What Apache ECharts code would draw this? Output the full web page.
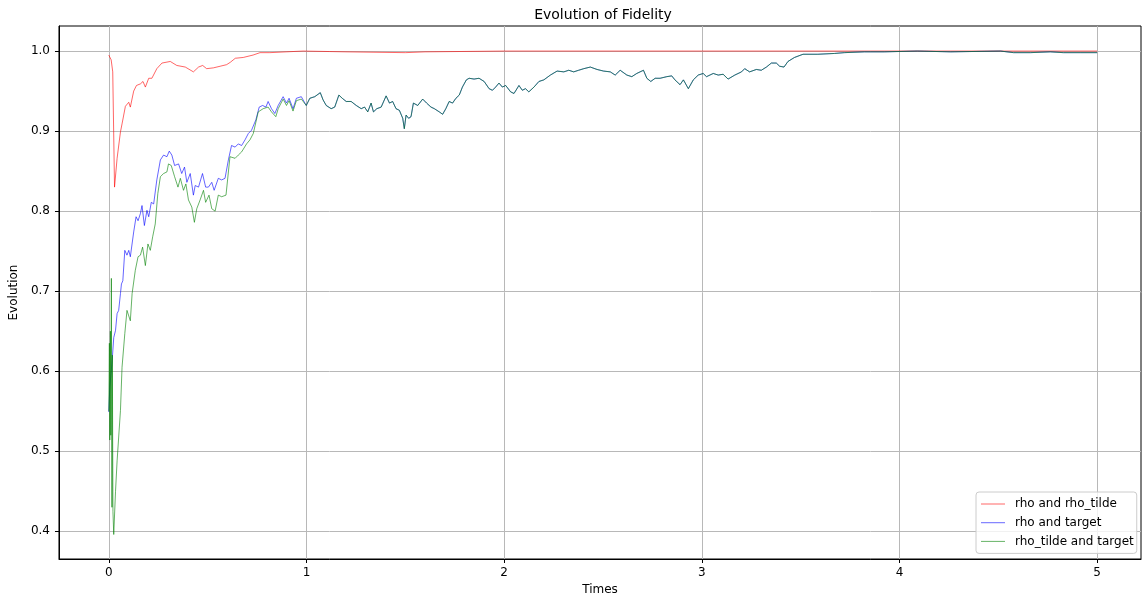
<!DOCTYPE html>
<html>
<head>
<meta charset="utf-8">
<script src="https://cdn.jsdelivr.net/npm/echarts@6/dist/echarts.min.js"></script>
<style>
html,body{margin:0;padding:0;background:#fff;}
#c{width:1142px;height:601px;}
</style>
</head>
<body>
<div id="c"></div>
<script>
// ---- data ----
const xTicks = [0, 1, 2, 3, 4, 5];
const yTicks = [0.4, 0.5, 0.6, 0.7, 0.8, 0.9, 1.0];
const seriesNames = ['rho and rho_tilde', 'rho and target', 'rho_tilde and target'];

const redTimes = [0, 0.012, 0.020, 0.029, 0.042, 0.059, 0.067, 0.084, 0.101, 0.109, 0.126, 0.140, 0.160, 0.173, 0.185, 0.202, 0.218, 0.243, 0.269, 0.311, 0.344, 0.387, 0.428, 0.454, 0.475, 0.495, 0.529, 0.563, 0.596, 0.615, 0.640, 0.680, 0.730, 0.765, 0.815, 0.897, 0.983, 1.2, 1.5, 1.6, 2.0, 3.0, 4.0, 5.0];
const redValues = [0.995, 0.989, 0.974, 0.830, 0.866, 0.899, 0.909, 0.931, 0.936, 0.930, 0.950, 0.957, 0.959, 0.962, 0.955, 0.966, 0.966, 0.978, 0.985, 0.987, 0.982, 0.980, 0.974, 0.980, 0.982, 0.978, 0.979, 0.981, 0.983, 0.986, 0.991, 0.992, 0.995, 0.998, 0.998, 0.999, 1.000, 0.999, 0.998, 0.999, 1.000, 1.000, 1.000, 1.000];

const blueTimes = [0, 0.005, 0.017, 0.025, 0.034, 0.042, 0.050, 0.059, 0.064, 0.071, 0.081, 0.092, 0.101, 0.109, 0.126, 0.138, 0.148, 0.160, 0.168, 0.180, 0.193, 0.202, 0.215, 0.227, 0.243, 0.261, 0.277, 0.294, 0.306, 0.319, 0.333, 0.353, 0.369, 0.383, 0.395, 0.412, 0.428, 0.437, 0.454, 0.474, 0.490, 0.504, 0.521, 0.533, 0.554, 0.571, 0.588, 0.605, 0.621, 0.639, 0.655, 0.672, 0.689, 0.706, 0.722, 0.744, 0.761, 0.778, 0.795, 0.806, 0.823, 0.840, 0.857, 0.882, 0.899, 0.912, 0.932, 0.949, 0.974];
const blueValues = [0.549, 0.580, 0.613, 0.642, 0.651, 0.672, 0.676, 0.697, 0.709, 0.713, 0.751, 0.745, 0.751, 0.743, 0.774, 0.793, 0.788, 0.797, 0.807, 0.782, 0.801, 0.793, 0.811, 0.809, 0.839, 0.864, 0.870, 0.868, 0.875, 0.870, 0.857, 0.859, 0.847, 0.855, 0.836, 0.847, 0.820, 0.832, 0.830, 0.847, 0.830, 0.830, 0.836, 0.826, 0.841, 0.839, 0.841, 0.864, 0.882, 0.880, 0.884, 0.882, 0.889, 0.897, 0.901, 0.914, 0.930, 0.932, 0.930, 0.937, 0.928, 0.922, 0.932, 0.943, 0.935, 0.941, 0.928, 0.941, 0.943];

const greenTimes = [0, 0.003, 0.005, 0.008, 0.010, 0.013, 0.016, 0.018, 0.021, 0.025, 0.034, 0.042, 0.059, 0.067, 0.076, 0.081, 0.092, 0.101, 0.109, 0.118, 0.134, 0.148, 0.160, 0.171, 0.185, 0.198, 0.210, 0.222, 0.235, 0.248, 0.261, 0.277, 0.294, 0.302, 0.316, 0.333, 0.350, 0.362, 0.378, 0.390, 0.403, 0.420, 0.433, 0.445, 0.462, 0.479, 0.490, 0.507, 0.521, 0.538, 0.554, 0.571, 0.593, 0.613, 0.639, 0.655, 0.672, 0.697, 0.714, 0.731, 0.756, 0.781, 0.806, 0.823, 0.845, 0.857, 0.882, 0.899, 0.912, 0.932, 0.949, 0.974];
const greenValues = [0.550, 0.635, 0.514, 0.650, 0.520, 0.716, 0.430, 0.620, 0.425, 0.396, 0.450, 0.488, 0.551, 0.605, 0.605, 0.647, 0.676, 0.678, 0.663, 0.697, 0.726, 0.743, 0.745, 0.755, 0.732, 0.759, 0.751, 0.768, 0.784, 0.822, 0.843, 0.847, 0.849, 0.859, 0.857, 0.843, 0.830, 0.841, 0.826, 0.834, 0.814, 0.805, 0.786, 0.803, 0.814, 0.826, 0.811, 0.820, 0.803, 0.800, 0.820, 0.818, 0.820, 0.868, 0.866, 0.870, 0.874, 0.884, 0.889, 0.897, 0.924, 0.928, 0.930, 0.924, 0.918, 0.928, 0.940, 0.932, 0.938, 0.925, 0.938, 0.940];

// after t ~ 1 the blue and green curves coincide in the picture
const tailTimes = [0.999, 1.017, 1.025, 1.042, 1.070, 1.084, 1.100, 1.125, 1.143, 1.164, 1.181, 1.201, 1.226, 1.252, 1.277, 1.294, 1.310, 1.327, 1.339, 1.356, 1.378, 1.403, 1.420, 1.436, 1.453, 1.470, 1.487, 1.495, 1.504, 1.517, 1.529, 1.541, 1.563, 1.588, 1.608, 1.630, 1.647, 1.672, 1.689, 1.705, 1.722, 1.739, 1.756, 1.773, 1.789, 1.809, 1.823, 1.848, 1.873, 1.899, 1.924, 1.941, 1.957, 1.974, 1.991, 2.008, 2.033, 2.050, 2.075, 2.092, 2.108, 2.125, 2.151, 2.176, 2.201, 2.234, 2.268, 2.302, 2.327, 2.352, 2.377, 2.403, 2.436, 2.470, 2.503, 2.537, 2.562, 2.587, 2.621, 2.646, 2.671, 2.705, 2.722, 2.742, 2.764, 2.789, 2.823, 2.848, 2.864, 2.890, 2.907, 2.932, 2.957, 2.982, 3.007, 3.024, 3.058, 3.083, 3.108, 3.133, 3.167, 3.201, 3.217, 3.242, 3.276, 3.301, 3.327, 3.352, 3.377, 3.394, 3.416, 3.436, 3.469, 3.512, 3.587, 3.671, 3.721, 3.822, 3.923, 4.091, 4.259, 4.511, 4.577, 4.662, 4.763, 4.829, 4.914, 5.000];
const tailValues = [0.932, 0.941, 0.939, 0.943, 0.948, 0.939, 0.932, 0.928, 0.930, 0.945, 0.941, 0.937, 0.937, 0.932, 0.928, 0.930, 0.924, 0.935, 0.924, 0.928, 0.930, 0.944, 0.935, 0.937, 0.928, 0.926, 0.916, 0.903, 0.920, 0.916, 0.918, 0.935, 0.932, 0.940, 0.935, 0.930, 0.928, 0.924, 0.921, 0.928, 0.937, 0.935, 0.941, 0.945, 0.955, 0.964, 0.966, 0.965, 0.966, 0.962, 0.953, 0.951, 0.955, 0.960, 0.955, 0.957, 0.949, 0.947, 0.957, 0.951, 0.953, 0.949, 0.955, 0.962, 0.964, 0.970, 0.975, 0.974, 0.976, 0.974, 0.976, 0.978, 0.980, 0.977, 0.975, 0.974, 0.970, 0.976, 0.970, 0.968, 0.972, 0.976, 0.966, 0.962, 0.966, 0.966, 0.968, 0.969, 0.964, 0.958, 0.964, 0.953, 0.964, 0.970, 0.972, 0.968, 0.972, 0.970, 0.971, 0.965, 0.970, 0.974, 0.978, 0.974, 0.977, 0.976, 0.980, 0.985, 0.985, 0.981, 0.980, 0.987, 0.992, 0.996, 0.996, 0.997, 0.998, 0.999, 0.999, 1.000, 0.999, 1.000, 0.998, 0.998, 0.999, 0.998, 0.998, 0.998];

// ---- build ----
function zip(t, v) { return t.map((x, i) => [x, v[i]]); }
const redData = zip(redTimes, redValues);
const blueData = zip(blueTimes.concat(tailTimes), blueValues.concat(tailValues));
const greenData = zip(greenTimes.concat(tailTimes), greenValues.concat(tailValues));

const font = 'DejaVu Sans';
const colors = ['#ff0000', '#0000ff', '#008000'];
const legendColors = ['rgba(255,0,0,0.6)', 'rgba(0,0,255,0.6)', 'rgba(0,128,0,0.6)'];
const chart = echarts.init(document.getElementById('c'), null, {renderer: 'canvas'});
function lineSeries(name, data, color) {
  return {
    name: name, type: 'line', data: data, symbol: 'none', showSymbol: false,
    lineStyle: {color: color, width: 1, opacity: 0.6},
    itemStyle: {color: color, opacity: 0.6},
    emphasis: {disabled: true}, silent: true
  };
}
chart.setOption({
  animation: false,
  backgroundColor: '#ffffff',
  title: {
    text: 'Evolution of Fidelity', left: 598, top: 3, textAlign: 'center',
    textStyle: {fontFamily: font, fontSize: 14, fontWeight: 'normal', color: '#000'}
  },
  grid: {
    left: 55, top: 26, right: 1, bottom: 42, show: true,
    borderColor: '#000', borderWidth: 1, backgroundColor: 'transparent'
  },
  legend: {
    orient: 'vertical', left: 976, top: 492,
    icon: 'rect', itemWidth: 24, itemHeight: 1,
    itemGap: 4.7,
    padding: [5, 3, 5, 5],
    backgroundColor: 'rgba(255,255,255,0.8)', borderColor: '#cccccc', borderWidth: 1, borderRadius: 3,
    textStyle: {fontFamily: font, fontSize: 12, color: '#000', padding: [0, 0, 0, 5], lineHeight: 14},
    data: seriesNames.map((n, i) => ({name: n, itemStyle: {color: legendColors[i], opacity: 1}}))
  },
  xAxis: {
    type: 'value', min: -0.252, max: 5.222,
    name: 'Times', nameLocation: 'middle', nameGap: 24,
    nameTextStyle: {fontFamily: font, fontSize: 12, color: '#000'},
    axisLine: {show: true, onZero: false, lineStyle: {color: '#000', width: 1}},
    axisTick: {show: true, length: 4, customValues: xTicks, lineStyle: {color: '#000'}},
    axisLabel: {customValues: xTicks, margin: 8, fontFamily: font, fontSize: 12, color: '#000',
      formatter: v => String(v)},
    splitLine: {show: true, lineStyle: {color: '#b8b8b8', width: 1}}
  },
  yAxis: {
    type: 'value', min: 0.3654, max: 1.0313,
    name: 'Evolution', nameLocation: 'middle', nameGap: 32, nameRotate: 90,
    nameTextStyle: {fontFamily: font, fontSize: 12, color: '#000'},
    axisLine: {show: true, onZero: false, lineStyle: {color: '#000', width: 1}},
    axisTick: {show: true, length: 4, customValues: yTicks, lineStyle: {color: '#000'}},
    axisLabel: {customValues: yTicks, margin: 9, fontFamily: font, fontSize: 12, color: '#000',
      formatter: v => v.toFixed(1)},
    splitLine: {show: true, lineStyle: {color: '#b8b8b8', width: 1}}
  },
  series: [
    lineSeries(seriesNames[0], redData, colors[0]),
    lineSeries(seriesNames[1], blueData, colors[1]),
    lineSeries(seriesNames[2], greenData, colors[2])
  ]
});
</script>
</body>
</html>
